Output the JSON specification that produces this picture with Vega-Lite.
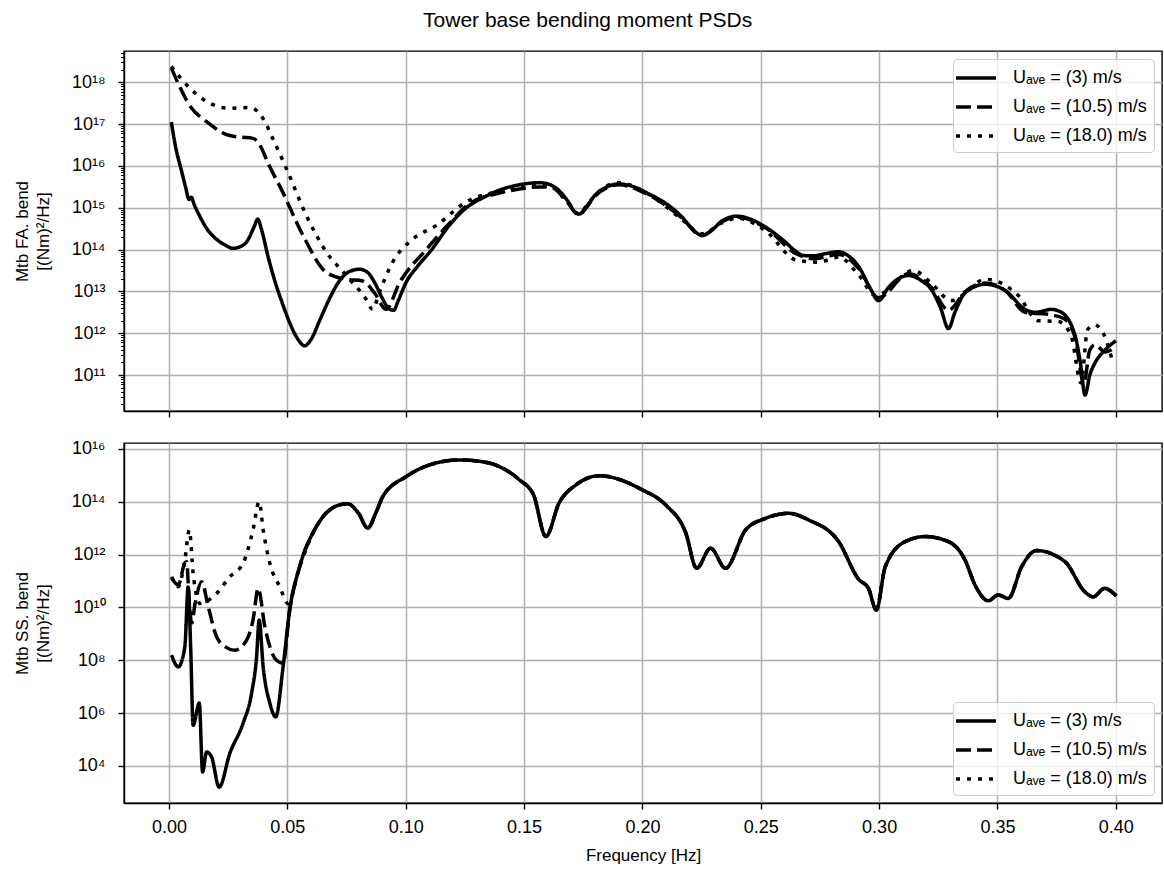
{
"$schema": "https://vega.github.io/schema/vega-lite/v6.json",
"padding": {"left": 12, "top": 10, "right": 0, "bottom": 2},
"title": {"text": "Tower base bending moment PSDs", "fontSize": 21, "fontWeight": "normal", "font": "Liberation Sans", "color": "black", "anchor": "middle", "frame": "bounds", "offset": 19},
"config": {
  "font": "Liberation Sans",
  "view": {"stroke": "black", "strokeWidth": 1.4},
  "axis": {"labelFont": "Liberation Sans", "labelFontSize": 18, "labelColor": "black", "titleFont": "Liberation Sans", "titleFontSize": 17, "titleFontWeight": "normal", "titleColor": "black", "domainColor": "black", "domainWidth": 1.4, "tickColor": "black", "tickWidth": 1.4, "tickSize": 6, "gridColor": "#b0b0b0", "gridWidth": 1.5, "grid": true, "labelPadding": 6},
  "legend": {"labelFont": "Liberation Sans"}
},
"datasets": {
"fa": [
{"s":"3","f":0.001,"p":1.12e17},{"s":"3","f":0.003,"p":2.51e16},{"s":"3","f":0.005,"p":8.91e15},{"s":"3","f":0.007,"p":3.16e15},{"s":"3","f":0.0085,"p":1.58e15},{"s":"3","f":0.0095,"p":1.78e15},{"s":"3","f":0.0105,"p":1.26e15},{"s":"3","f":0.013,"p":6.31e14},{"s":"3","f":0.016,"p":3.16e14},{"s":"3","f":0.02,"p":1.78e14},{"s":"3","f":0.024,"p":1.26e14},{"s":"3","f":0.027,"p":1.07e14},{"s":"3","f":0.03,"p":1.17e14},{"s":"3","f":0.033,"p":1.58e14},{"s":"3","f":0.036,"p":3.55e14},{"s":"3","f":0.0375,"p":5.37e14},{"s":"3","f":0.039,"p":3.16e14},{"s":"3","f":0.042,"p":6.31e13},{"s":"3","f":0.045,"p":1.58e13},{"s":"3","f":0.048,"p":5.01e12},{"s":"3","f":0.051,"p":1.78e12},{"s":"3","f":0.054,"p":7.94e11},{"s":"3","f":0.0573,"p":5.01e11},{"s":"3","f":0.06,"p":7.08e11},{"s":"3","f":0.064,"p":2.24e12},{"s":"3","f":0.068,"p":7.08e12},{"s":"3","f":0.072,"p":1.78e13},{"s":"3","f":0.076,"p":2.95e13},{"s":"3","f":0.0805,"p":3.39e13},{"s":"3","f":0.084,"p":2.82e13},{"s":"3","f":0.087,"p":1.58e13},{"s":"3","f":0.09,"p":7.08e12},{"s":"3","f":0.093,"p":3.8e12},{"s":"3","f":0.0949,"p":3.55e12},{"s":"3","f":0.097,"p":6.31e12},{"s":"3","f":0.1,"p":1.58e13},{"s":"3","f":0.105,"p":3.98e13},{"s":"3","f":0.111,"p":1.0e14},{"s":"3","f":0.118,"p":3.55e14},{"s":"3","f":0.1256,"p":1.0e15},{"s":"3","f":0.133,"p":1.78e15},{"s":"3","f":0.1395,"p":2.63e15},{"s":"3","f":0.148,"p":3.55e15},{"s":"3","f":0.1564,"p":3.98e15},{"s":"3","f":0.16,"p":3.72e15},{"s":"3","f":0.164,"p":2.82e15},{"s":"3","f":0.168,"p":1.58e15},{"s":"3","f":0.1715,"p":7.94e14},{"s":"3","f":0.1733,"p":7.08e14},{"s":"3","f":0.176,"p":1.0e15},{"s":"3","f":0.18,"p":2.0e15},{"s":"3","f":0.185,"p":3.16e15},{"s":"3","f":0.19,"p":3.72e15},{"s":"3","f":0.1965,"p":3.16e15},{"s":"3","f":0.2028,"p":2.14e15},{"s":"3","f":0.21,"p":1.26e15},{"s":"3","f":0.2167,"p":6.03e14},{"s":"3","f":0.221,"p":3.16e14},{"s":"3","f":0.2251,"p":2.19e14},{"s":"3","f":0.229,"p":2.82e14},{"s":"3","f":0.234,"p":5.01e14},{"s":"3","f":0.24,"p":6.31e14},{"s":"3","f":0.246,"p":5.25e14},{"s":"3","f":0.252,"p":3.47e14},{"s":"3","f":0.26,"p":1.58e14},{"s":"3","f":0.265,"p":8.91e13},{"s":"3","f":0.268,"p":7.24e13},{"s":"3","f":0.272,"p":7.08e13},{"s":"3","f":0.277,"p":7.94e13},{"s":"3","f":0.2829,"p":8.91e13},{"s":"3","f":0.287,"p":7.08e13},{"s":"3","f":0.2913,"p":3.98e13},{"s":"3","f":0.296,"p":1.26e13},{"s":"3","f":0.2998,"p":6.03e12},{"s":"3","f":0.304,"p":1.26e13},{"s":"3","f":0.3124,"p":2.4e13},{"s":"3","f":0.318,"p":1.78e13},{"s":"3","f":0.322,"p":1.12e13},{"s":"3","f":0.326,"p":3.98e12},{"s":"3","f":0.3293,"p":1.29e12},{"s":"3","f":0.332,"p":3.16e12},{"s":"3","f":0.3364,"p":9.33e12},{"s":"3","f":0.3449,"p":1.48e13},{"s":"3","f":0.3533,"p":1.05e13},{"s":"3","f":0.3617,"p":3.72e12},{"s":"3","f":0.366,"p":3.16e12},{"s":"3","f":0.3727,"p":3.72e12},{"s":"3","f":0.377,"p":3.16e12},{"s":"3","f":0.3828,"p":8.71e11},{"s":"3","f":0.385,"p":2.0e11},{"s":"3","f":0.387,"p":3.31e10},{"s":"3","f":0.389,"p":1.0e11},{"s":"3","f":0.3912,"p":1.95e11},{"s":"3","f":0.3955,"p":3.98e11},{"s":"3","f":0.4,"p":6.61e11},
{"s":"10.5","f":0.001,"p":2.19e18},{"s":"10.5","f":0.0096,"p":2.4e17},{"s":"10.5","f":0.0159,"p":1.15e17},{"s":"10.5","f":0.0243,"p":5.62e16},{"s":"10.5","f":0.03,"p":4.9e16},{"s":"10.5","f":0.0355,"p":4.57e16},{"s":"10.5","f":0.0384,"p":3.16e16},{"s":"10.5","f":0.042,"p":1.12e16},{"s":"10.5","f":0.048,"p":2.4e15},{"s":"10.5","f":0.0566,"p":2.19e14},{"s":"10.5","f":0.0666,"p":2.82e13},{"s":"10.5","f":0.075,"p":1.95e13},{"s":"10.5","f":0.0818,"p":1.78e13},{"s":"10.5","f":0.087,"p":8.91e12},{"s":"10.5","f":0.0917,"p":3.72e12},{"s":"10.5","f":0.0974,"p":1.62e13},{"s":"10.5","f":0.1088,"p":1.02e14},{"s":"10.5","f":0.118,"p":3.98e14},{"s":"10.5","f":0.127,"p":1.26e15},{"s":"10.5","f":0.1395,"p":2.24e15},{"s":"10.5","f":0.148,"p":2.82e15},{"s":"10.5","f":0.157,"p":3.16e15},{"s":"10.5","f":0.162,"p":3.02e15},{"s":"10.5","f":0.168,"p":1.41e15},{"s":"10.5","f":0.1733,"p":6.76e14},{"s":"10.5","f":0.176,"p":9.55e14},{"s":"10.5","f":0.18,"p":1.91e15},{"s":"10.5","f":0.19,"p":3.55e15},{"s":"10.5","f":0.2028,"p":2.0e15},{"s":"10.5","f":0.2167,"p":5.75e14},{"s":"10.5","f":0.2251,"p":2.14e14},{"s":"10.5","f":0.234,"p":4.79e14},{"s":"10.5","f":0.24,"p":6.03e14},{"s":"10.5","f":0.252,"p":3.31e14},{"s":"10.5","f":0.265,"p":7.94e13},{"s":"10.5","f":0.272,"p":6.03e13},{"s":"10.5","f":0.2829,"p":7.59e13},{"s":"10.5","f":0.2913,"p":3.55e13},{"s":"10.5","f":0.2998,"p":7.08e12},{"s":"10.5","f":0.3124,"p":2.63e13},{"s":"10.5","f":0.322,"p":1.26e13},{"s":"10.5","f":0.3293,"p":3.55e12},{"s":"10.5","f":0.3364,"p":1.0e13},{"s":"10.5","f":0.3449,"p":1.58e13},{"s":"10.5","f":0.3533,"p":1.05e13},{"s":"10.5","f":0.3617,"p":3.16e12},{"s":"10.5","f":0.3727,"p":2.75e12},{"s":"10.5","f":0.378,"p":2.24e12},{"s":"10.5","f":0.3828,"p":7.94e11},{"s":"10.5","f":0.3865,"p":6.31e10},{"s":"10.5","f":0.389,"p":3.98e11},{"s":"10.5","f":0.3912,"p":5.25e11},{"s":"10.5","f":0.3955,"p":3.55e11},{"s":"10.5","f":0.4,"p":4.79e11},
{"s":"18.0","f":0.001,"p":2.4e18},{"s":"18.0","f":0.0088,"p":7.24e17},{"s":"18.0","f":0.0173,"p":3.16e17},{"s":"18.0","f":0.0257,"p":2.4e17},{"s":"18.0","f":0.0341,"p":2.51e17},{"s":"18.0","f":0.0375,"p":2.0e17},{"s":"18.0","f":0.0405,"p":1.15e17},{"s":"18.0","f":0.0435,"p":5.01e16},{"s":"18.0","f":0.0496,"p":8.71e15},{"s":"18.0","f":0.058,"p":6.61e14},{"s":"18.0","f":0.0665,"p":8.71e13},{"s":"18.0","f":0.0749,"p":2.4e13},{"s":"18.0","f":0.0833,"p":6.46e12},{"s":"18.0","f":0.086,"p":3.72e12},{"s":"18.0","f":0.089,"p":1.0e13},{"s":"18.0","f":0.0945,"p":5.01e13},{"s":"18.0","f":0.103,"p":1.78e14},{"s":"18.0","f":0.113,"p":3.8e14},{"s":"18.0","f":0.1256,"p":1.38e15},{"s":"18.0","f":0.1395,"p":2.51e15},{"s":"18.0","f":0.148,"p":3.16e15},{"s":"18.0","f":0.157,"p":3.55e15},{"s":"18.0","f":0.162,"p":3.16e15},{"s":"18.0","f":0.168,"p":1.51e15},{"s":"18.0","f":0.1733,"p":7.08e14},{"s":"18.0","f":0.176,"p":1.05e15},{"s":"18.0","f":0.18,"p":2.0e15},{"s":"18.0","f":0.19,"p":3.98e15},{"s":"18.0","f":0.2028,"p":2.09e15},{"s":"18.0","f":0.2167,"p":5.25e14},{"s":"18.0","f":0.2251,"p":2.4e14},{"s":"18.0","f":0.234,"p":4.47e14},{"s":"18.0","f":0.24,"p":5.62e14},{"s":"18.0","f":0.252,"p":2.82e14},{"s":"18.0","f":0.265,"p":5.62e13},{"s":"18.0","f":0.2745,"p":5.01e13},{"s":"18.0","f":0.2829,"p":6.61e13},{"s":"18.0","f":0.2913,"p":2.51e13},{"s":"18.0","f":0.2985,"p":7.94e12},{"s":"18.0","f":0.3145,"p":3.16e13},{"s":"18.0","f":0.322,"p":1.58e13},{"s":"18.0","f":0.3305,"p":6.03e12},{"s":"18.0","f":0.3449,"p":1.95e13},{"s":"18.0","f":0.3588,"p":7.94e12},{"s":"18.0","f":0.3672,"p":2.0e12},{"s":"18.0","f":0.3756,"p":1.91e12},{"s":"18.0","f":0.3811,"p":8.71e11},{"s":"18.0","f":0.3853,"p":6.46e10},{"s":"18.0","f":0.388,"p":1.2e12},{"s":"18.0","f":0.391,"p":1.58e12},{"s":"18.0","f":0.3946,"p":1.02e12},{"s":"18.0","f":0.3988,"p":1.95e11}
],
"ss": [
{"s":"3","f":0.0011,"p":1.55e8},{"s":"3","f":0.0039,"p":5.62e7},{"s":"3","f":0.0067,"p":3.24e8},{"s":"3","f":0.0081,"p":5.89e10},{"s":"3","f":0.0092,"p":2.4e8},{"s":"3","f":0.0102,"p":3.47e5},{"s":"3","f":0.0128,"p":2.4e6},{"s":"3","f":0.0142,"p":5.89e3},{"s":"3","f":0.0159,"p":3.39e4},{"s":"3","f":0.018,"p":2.19e4},{"s":"3","f":0.0212,"p":1.58e3},{"s":"3","f":0.0257,"p":3.02e4},{"s":"3","f":0.0313,"p":4.17e5},{"s":"3","f":0.0349,"p":5.62e6},{"s":"3","f":0.037,"p":1.35e8},{"s":"3","f":0.0381,"p":3.31e9},{"s":"3","f":0.0398,"p":5.62e7},{"s":"3","f":0.0426,"p":2.4e6},{"s":"3","f":0.0451,"p":7.24e5},{"s":"3","f":0.0482,"p":5.62e7},{"s":"3","f":0.051,"p":7.94e9},{"s":"3","f":0.0552,"p":3.47e11},{"s":"3","f":0.0623,"p":1.15e13},{"s":"3","f":0.0721,"p":7.59e13},{"s":"3","f":0.0755,"p":8.32e13},{"s":"3","f":0.08,"p":3.72e13},{"s":"3","f":0.084,"p":1.0e13},{"s":"3","f":0.0875,"p":3.98e13},{"s":"3","f":0.0903,"p":1.55e14},{"s":"3","f":0.1002,"p":8.91e14},{"s":"3","f":0.11,"p":2.45e15},{"s":"3","f":0.1227,"p":3.8e15},{"s":"3","f":0.135,"p":2.95e15},{"s":"3","f":0.1395,"p":2.14e15},{"s":"3","f":0.148,"p":6.76e14},{"s":"3","f":0.154,"p":1.82e14},{"s":"3","f":0.1592,"p":4.79e12},{"s":"3","f":0.1648,"p":8.91e13},{"s":"3","f":0.172,"p":4.37e14},{"s":"3","f":0.1817,"p":9.55e14},{"s":"3","f":0.1999,"p":2.82e14},{"s":"3","f":0.2098,"p":7.59e13},{"s":"3","f":0.2183,"p":6.61e12},{"s":"3","f":0.2229,"p":3.02e11},{"s":"3","f":0.2288,"p":1.74e12},{"s":"3","f":0.2351,"p":3.02e11},{"s":"3","f":0.2436,"p":8.51e12},{"s":"3","f":0.252,"p":2.34e13},{"s":"3","f":0.2618,"p":3.63e13},{"s":"3","f":0.2702,"p":2.04e13},{"s":"3","f":0.2829,"p":3.09e12},{"s":"3","f":0.2913,"p":1.17e11},{"s":"3","f":0.2955,"p":5.25e10},{"s":"3","f":0.2988,"p":7.94e9},{"s":"3","f":0.3026,"p":3.47e11},{"s":"3","f":0.311,"p":3.09e12},{"s":"3","f":0.3194,"p":4.79e12},{"s":"3","f":0.3293,"p":3.09e12},{"s":"3","f":0.3363,"p":6.17e11},{"s":"3","f":0.3405,"p":7.08e10},{"s":"3","f":0.3461,"p":1.78e10},{"s":"3","f":0.3503,"p":2.95e10},{"s":"3","f":0.3546,"p":2.19e10},{"s":"3","f":0.3602,"p":3.47e11},{"s":"3","f":0.3665,"p":1.41e12},{"s":"3","f":0.3785,"p":5.37e11},{"s":"3","f":0.3869,"p":3.89e10},{"s":"3","f":0.3904,"p":2.51e10},{"s":"3","f":0.3953,"p":5.25e10},{"s":"3","f":0.4002,"p":2.69e10},
{"s":"10.5","f":0.0011,"p":1.29e11},{"s":"10.5","f":0.0039,"p":7.08e10},{"s":"10.5","f":0.0067,"p":4.79e11},{"s":"10.5","f":0.0075,"p":5.37e11},{"s":"10.5","f":0.0085,"p":1.91e10},{"s":"10.5","f":0.0096,"p":2.57e9},{"s":"10.5","f":0.011,"p":1.35e10},{"s":"10.5","f":0.0138,"p":9.33e10},{"s":"10.5","f":0.0166,"p":1.05e10},{"s":"10.5","f":0.0201,"p":7.76e8},{"s":"10.5","f":0.024,"p":3.16e8},{"s":"10.5","f":0.0278,"p":2.4e8},{"s":"10.5","f":0.0328,"p":5.75e8},{"s":"10.5","f":0.0355,"p":3.31e9},{"s":"10.5","f":0.0377,"p":5.25e10},{"s":"10.5","f":0.0405,"p":1.86e9},{"s":"10.5","f":0.0454,"p":1.0e8},{"s":"10.5","f":0.0482,"p":7.76e7},{"s":"10.5","f":0.051,"p":7.94e9},{"s":"10.5","f":0.0552,"p":3.47e11},{"s":"10.5","f":0.0623,"p":1.15e13},{"s":"10.5","f":0.0721,"p":7.59e13},{"s":"10.5","f":0.0755,"p":8.32e13},{"s":"10.5","f":0.08,"p":3.72e13},{"s":"10.5","f":0.084,"p":1.0e13},{"s":"10.5","f":0.0875,"p":3.98e13},{"s":"10.5","f":0.0903,"p":1.55e14},{"s":"10.5","f":0.1002,"p":8.91e14},{"s":"10.5","f":0.11,"p":2.45e15},{"s":"10.5","f":0.1227,"p":3.8e15},{"s":"10.5","f":0.135,"p":2.95e15},{"s":"10.5","f":0.1395,"p":2.14e15},{"s":"10.5","f":0.148,"p":6.76e14},{"s":"10.5","f":0.154,"p":1.82e14},{"s":"10.5","f":0.1592,"p":4.79e12},{"s":"10.5","f":0.1648,"p":8.91e13},{"s":"10.5","f":0.172,"p":4.37e14},{"s":"10.5","f":0.1817,"p":9.55e14},{"s":"10.5","f":0.1999,"p":2.82e14},{"s":"10.5","f":0.2098,"p":7.59e13},{"s":"10.5","f":0.2183,"p":6.61e12},{"s":"10.5","f":0.2229,"p":3.02e11},{"s":"10.5","f":0.2288,"p":1.74e12},{"s":"10.5","f":0.2351,"p":3.02e11},{"s":"10.5","f":0.2436,"p":8.51e12},{"s":"10.5","f":0.252,"p":2.34e13},{"s":"10.5","f":0.2618,"p":3.63e13},{"s":"10.5","f":0.2702,"p":2.04e13},{"s":"10.5","f":0.2829,"p":3.09e12},{"s":"10.5","f":0.2913,"p":1.17e11},{"s":"10.5","f":0.2955,"p":5.25e10},{"s":"10.5","f":0.2988,"p":7.94e9},{"s":"10.5","f":0.3026,"p":3.47e11},{"s":"10.5","f":0.311,"p":3.09e12},{"s":"10.5","f":0.3194,"p":4.79e12},{"s":"10.5","f":0.3293,"p":3.09e12},{"s":"10.5","f":0.3363,"p":6.17e11},{"s":"10.5","f":0.3405,"p":7.08e10},{"s":"10.5","f":0.3461,"p":1.78e10},{"s":"10.5","f":0.3503,"p":2.95e10},{"s":"10.5","f":0.3546,"p":2.19e10},{"s":"10.5","f":0.3602,"p":3.47e11},{"s":"10.5","f":0.3665,"p":1.41e12},{"s":"10.5","f":0.3785,"p":5.37e11},{"s":"10.5","f":0.3869,"p":3.89e10},{"s":"10.5","f":0.3904,"p":2.51e10},{"s":"10.5","f":0.3953,"p":5.25e10},{"s":"10.5","f":0.4002,"p":2.69e10},
{"s":"18.0","f":0.0011,"p":1.45e11},{"s":"18.0","f":0.0025,"p":8.32e10},{"s":"18.0","f":0.0039,"p":6.03e10},{"s":"18.0","f":0.0067,"p":6.17e11},{"s":"18.0","f":0.0086,"p":8.51e12},{"s":"18.0","f":0.0102,"p":1.95e11},{"s":"18.0","f":0.0131,"p":1.41e10},{"s":"18.0","f":0.0201,"p":3.39e10},{"s":"18.0","f":0.0257,"p":1.45e11},{"s":"18.0","f":0.0313,"p":4.68e11},{"s":"18.0","f":0.0355,"p":8.51e12},{"s":"18.0","f":0.0381,"p":1.0e14},{"s":"18.0","f":0.0398,"p":8.51e12},{"s":"18.0","f":0.0426,"p":4.68e11},{"s":"18.0","f":0.0468,"p":6.03e10},{"s":"18.0","f":0.0503,"p":1.41e10},{"s":"18.0","f":0.0552,"p":3.47e11},{"s":"18.0","f":0.0623,"p":1.15e13},{"s":"18.0","f":0.0721,"p":7.59e13},{"s":"18.0","f":0.0755,"p":8.32e13},{"s":"18.0","f":0.08,"p":3.72e13},{"s":"18.0","f":0.084,"p":1.0e13},{"s":"18.0","f":0.0875,"p":3.98e13},{"s":"18.0","f":0.0903,"p":1.55e14},{"s":"18.0","f":0.1002,"p":8.91e14},{"s":"18.0","f":0.11,"p":2.45e15},{"s":"18.0","f":0.1227,"p":3.8e15},{"s":"18.0","f":0.135,"p":2.95e15},{"s":"18.0","f":0.1395,"p":2.14e15},{"s":"18.0","f":0.148,"p":6.76e14},{"s":"18.0","f":0.154,"p":1.82e14},{"s":"18.0","f":0.1592,"p":4.79e12},{"s":"18.0","f":0.1648,"p":8.91e13},{"s":"18.0","f":0.172,"p":4.37e14},{"s":"18.0","f":0.1817,"p":9.55e14},{"s":"18.0","f":0.1999,"p":2.82e14},{"s":"18.0","f":0.2098,"p":7.59e13},{"s":"18.0","f":0.2183,"p":6.61e12},{"s":"18.0","f":0.2229,"p":3.02e11},{"s":"18.0","f":0.2288,"p":1.74e12},{"s":"18.0","f":0.2351,"p":3.02e11},{"s":"18.0","f":0.2436,"p":8.51e12},{"s":"18.0","f":0.252,"p":2.34e13},{"s":"18.0","f":0.2618,"p":3.63e13},{"s":"18.0","f":0.2702,"p":2.04e13},{"s":"18.0","f":0.2829,"p":3.09e12},{"s":"18.0","f":0.2913,"p":1.17e11},{"s":"18.0","f":0.2955,"p":5.25e10},{"s":"18.0","f":0.2988,"p":7.94e9},{"s":"18.0","f":0.3026,"p":3.47e11},{"s":"18.0","f":0.311,"p":3.09e12},{"s":"18.0","f":0.3194,"p":4.79e12},{"s":"18.0","f":0.3293,"p":3.09e12},{"s":"18.0","f":0.3363,"p":6.17e11},{"s":"18.0","f":0.3405,"p":7.08e10},{"s":"18.0","f":0.3461,"p":1.78e10},{"s":"18.0","f":0.3503,"p":2.95e10},{"s":"18.0","f":0.3546,"p":2.19e10},{"s":"18.0","f":0.3602,"p":3.47e11},{"s":"18.0","f":0.3665,"p":1.41e12},{"s":"18.0","f":0.3785,"p":5.37e11},{"s":"18.0","f":0.3869,"p":3.89e10},{"s":"18.0","f":0.3904,"p":2.51e10},{"s":"18.0","f":0.3953,"p":5.25e10},{"s":"18.0","f":0.4002,"p":2.69e10}
]
},
"spacing": 20,
"vconcat": [
{
  "width": 1038, "height": 360,
  "data": {"name": "fa"},
  "mark": {"type": "line", "color": "black", "strokeWidth": 3.5, "interpolate": "monotone", "clip": true},
  "encoding": {
    "x": {"field": "f", "type": "quantitative", "scale": {"domain": [-0.019, 0.4195], "nice": false, "zero": false},
          "axis": {"values": [0, 0.05, 0.1, 0.15, 0.2, 0.25, 0.3, 0.35, 0.4], "labels": false, "title": null}},
    "y": {"field": "p", "type": "quantitative", "scale": {"type": "log", "domain": [1.38e10, 5.62e18], "nice": false},
          "axis": {
            "title": ["Mtb FA. bend", "[(Nm)²/Hz]"], "titleLineHeight": 21, "titlePadding": 19, "labelPadding": 13,
            "values": [2e10,3e10,4e10,5e10,6e10,7e10,8e10,9e10,1e11,2e11,3e11,4e11,5e11,6e11,7e11,8e11,9e11,1e12,2e12,3e12,4e12,5e12,6e12,7e12,8e12,9e12,1e13,2e13,3e13,4e13,5e13,6e13,7e13,8e13,9e13,1e14,2e14,3e14,4e14,5e14,6e14,7e14,8e14,9e14,1e15,2e15,3e15,4e15,5e15,6e15,7e15,8e15,9e15,1e16,2e16,3e16,4e16,5e16,6e16,7e16,8e16,9e16,1e17,2e17,3e17,4e17,5e17,6e17,7e17,8e17,9e17,1e18,2e18,3e18,4e18,5e18],
            "labelExpr": "(abs(log(datum.value)/LN10 - round(log(datum.value)/LN10)) < 0.001) ? ('10' + substring('⁰¹²³⁴⁵⁶⁷⁸⁹', floor(round(log(datum.value)/LN10)/10), floor(round(log(datum.value)/LN10)/10)+1) + substring('⁰¹²³⁴⁵⁶⁷⁸⁹', round(log(datum.value)/LN10)%10, round(log(datum.value)/LN10)%10+1)) : ''",
            "gridOpacity": {"condition": {"test": "abs(log(datum.value)/LN10 - round(log(datum.value)/LN10)) < 0.001", "value": 1}, "value": 0},
            "tickSize": {"condition": {"test": "abs(log(datum.value)/LN10 - round(log(datum.value)/LN10)) < 0.001", "value": 6}, "value": 3.5},
            "tickWidth": {"condition": {"test": "abs(log(datum.value)/LN10 - round(log(datum.value)/LN10)) < 0.001", "value": 1.4}, "value": 1}
          }},
    "strokeDash": {"field": "s", "type": "nominal",
          "scale": {"domain": ["3", "10.5", "18.0"], "range": [[1, 0], [15, 6], [4, 7]]},
          "legend": {"orient": "top-right", "offset": 8, "title": null, "symbolType": "M-2,0H2", "symbolSize": 400, "symbolStrokeWidth": 3.5, "symbolStrokeColor": "black", "symbolOffset": 4, "labelFontSize": 18, "labelOffset": 25, "labelLimit": 400, "labelColor": "black",
                     "labelExpr": "'Uₐᵥₑ = (' + datum.label + ') m/s'", "fillColor": "rgba(255,255,255,0.8)", "strokeColor": "#cccccc", "cornerRadius": 4, "padding": 7, "rowPadding": 8}}
  }
},
{
  "width": 1038, "height": 360,
  "data": {"name": "ss"},
  "mark": {"type": "line", "color": "black", "strokeWidth": 3.5, "interpolate": "monotone", "clip": true},
  "encoding": {
    "x": {"field": "f", "type": "quantitative", "scale": {"domain": [-0.019, 0.4195], "nice": false, "zero": false},
          "axis": {"values": [0, 0.05, 0.1, 0.15, 0.2, 0.25, 0.3, 0.35, 0.4], "format": ".2f", "title": "Frequency [Hz]", "labelPadding": 9, "titlePadding": 11}},
    "y": {"field": "p", "type": "quantitative", "scale": {"type": "log", "domain": [398, 1.66e16], "nice": false},
          "axis": {
            "title": ["Mtb SS. bend", "[(Nm)²/Hz]"], "titleLineHeight": 21, "titlePadding": 19, "labelPadding": 13,
            "values": [1e4, 1e6, 1e8, 1e10, 1e12, 1e14, 1e16],
            "labelExpr": "'10' + (round(log(datum.value)/LN10) >= 10 ? substring('⁰¹²³⁴⁵⁶⁷⁸⁹', floor(round(log(datum.value)/LN10)/10), floor(round(log(datum.value)/LN10)/10)+1) : '') + substring('⁰¹²³⁴⁵⁶⁷⁸⁹', round(log(datum.value)/LN10)%10, round(log(datum.value)/LN10)%10+1)"
          }},
    "strokeDash": {"field": "s", "type": "nominal",
          "scale": {"domain": ["3", "10.5", "18.0"], "range": [[1, 0], [15, 6], [4, 7]]},
          "legend": {"orient": "bottom-right", "offset": 8, "title": null, "symbolType": "M-2,0H2", "symbolSize": 400, "symbolStrokeWidth": 3.5, "symbolStrokeColor": "black", "symbolOffset": 4, "labelFontSize": 18, "labelOffset": 25, "labelLimit": 400, "labelColor": "black",
                     "labelExpr": "'Uₐᵥₑ = (' + datum.label + ') m/s'", "fillColor": "rgba(255,255,255,0.8)", "strokeColor": "#cccccc", "cornerRadius": 4, "padding": 7, "rowPadding": 8}}
  }
}
],
"resolve": {"legend": {"strokeDash": "independent"}, "scale": {"strokeDash": "independent"}}
}
